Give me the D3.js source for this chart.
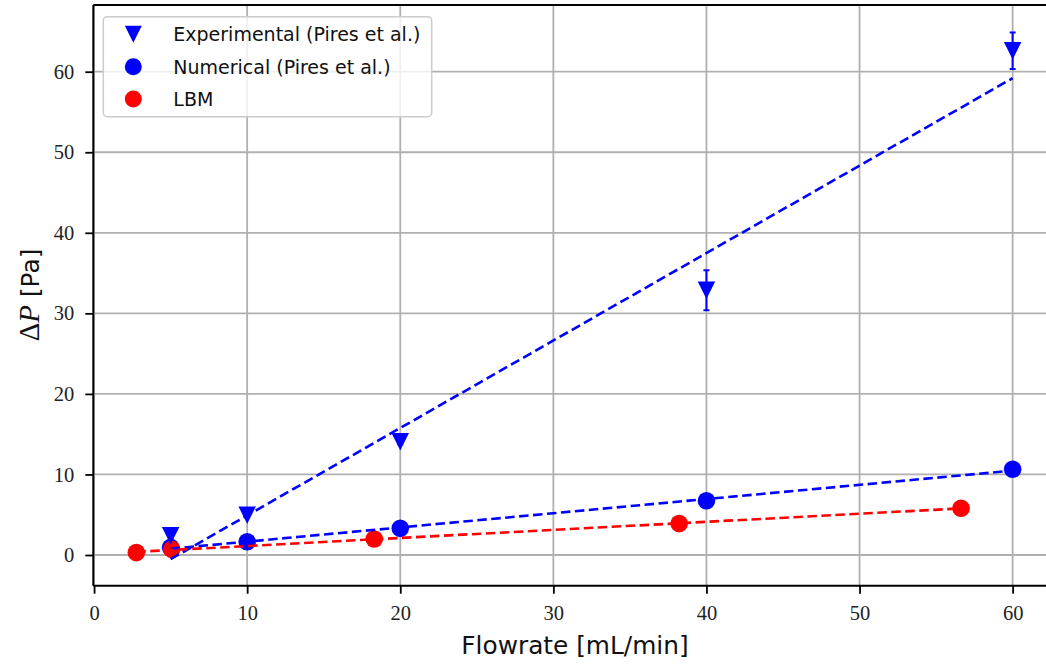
<!DOCTYPE html>
<html>
<head>
<meta charset="utf-8">
<script src="https://cdn.jsdelivr.net/npm/d3@7"></script>
<style>
  html, body { margin: 0; padding: 0; background: #fff; }
  svg { display: block; }
</style>
</head>
<body>
<svg id="chart" width="1046" height="668"></svg>
<script>
// ---------------- data ----------------
const expFlow   = [5, 10, 20, 40, 60];
const expDP     = [2.38, 4.94, 14.05, 32.87, 62.6];
const expErr    = [0.2, 0.25, 0.3, 2.48, 2.27];

const numFlow   = [5, 10, 20, 40, 60];
const numDP     = [0.95, 1.65, 3.31, 6.74, 10.64];

const lbmFlow   = [2.76, 5.07, 18.3, 38.22, 56.63];
const lbmDP     = [0.30, 0.70, 1.99, 3.90, 5.80];

const xTicks = [0, 10, 20, 30, 40, 50, 60];
const yTicks = [0, 10, 20, 30, 40, 50, 60];

const legendLabels = ["Experimental (Pires et al.)", "Numerical (Pires et al.)", "LBM"];
const xLabel = "Flowrate [mL/min]";

// ---------------- layout ----------------
const W = 1046, H = 668;
const plot = { left: 93.3, right: 1048, top: 5, bottom: 585.7 };
const BLUE = "#0000ff", RED = "#ff0000";

const x = d3.scaleLinear().domain([-0.05, 62.31]).range([plot.left, plot.right]);
const y = d3.scaleLinear().domain([-3.81, 68.28]).range([plot.bottom, plot.top]);

const svg = d3.select("#chart");

// least-squares fit
function fit(xs, ys) {
  const n = xs.length;
  const mx = d3.mean(xs), my = d3.mean(ys);
  let sxy = 0, sxx = 0;
  for (let i = 0; i < n; i++) { sxy += (xs[i]-mx)*(ys[i]-my); sxx += (xs[i]-mx)**2; }
  const b = sxy / sxx, a = my - b*mx;
  const x0 = d3.min(xs), x1 = d3.max(xs);
  return [[x0, a + b*x0], [x1, a + b*x1]];
}

// grid
const grid = svg.append("g");
grid.selectAll("line.gx").data(xTicks).join("line")
  .attr("x1", d => x(d)).attr("x2", d => x(d))
  .attr("y1", plot.top).attr("y2", plot.bottom)
  .attr("stroke", "#b0b0b0").attr("stroke-width", 1.8);
grid.selectAll("line.gy").data(yTicks).join("line")
  .attr("x1", plot.left).attr("x2", plot.right)
  .attr("y1", d => y(d)).attr("y2", d => y(d))
  .attr("stroke", "#b0b0b0").attr("stroke-width", 1.8);

// markers
const R = 8.8;
svg.append("g").selectAll("circle").data(numFlow.map((f,i)=>[f,numDP[i]])).join("circle")
  .attr("cx", d => x(d[0])).attr("cy", d => y(d[1])).attr("r", R).attr("fill", BLUE);
svg.append("g").selectAll("circle").data(lbmFlow.map((f,i)=>[f,lbmDP[i]])).join("circle")
  .attr("cx", d => x(d[0])).attr("cy", d => y(d[1])).attr("r", R).attr("fill", RED);

// error bars + triangles
const tri = (cx, cy, s) => {
  const h = s/2;
  return `M${cx},${cy+h} L${cx-h},${cy-h} L${cx+h},${cy-h} Z`;
};
const eg = svg.append("g");
expFlow.forEach((f, i) => {
  const cx = x(f), y0 = y(expDP[i]-expErr[i]), y1 = y(expDP[i]+expErr[i]);
  eg.append("line").attr("x1", cx).attr("x2", cx).attr("y1", y0).attr("y2", y1)
    .attr("stroke", BLUE).attr("stroke-width", 2);
  [y0, y1].forEach(yy => eg.append("line").attr("x1", cx-3).attr("x2", cx+3)
    .attr("y1", yy).attr("y2", yy).attr("stroke", BLUE).attr("stroke-width", 2));
  eg.append("path").attr("d", tri(cx, y(expDP[i]), 17.5)).attr("fill", BLUE);
});

// fit lines
const lineGen = d3.line().x(d => x(d[0])).y(d => y(d[1]));
[[expFlow, expDP, BLUE], [numFlow, numDP, BLUE], [lbmFlow, lbmDP, RED]].forEach(([xs, ys, c]) => {
  svg.append("path").attr("d", lineGen(fit(xs, ys)))
    .attr("fill", "none").attr("stroke", c).attr("stroke-width", 2.6)
    .attr("stroke-dasharray", "9.5,4.5");
});

// axes
const xAxis = svg.append("g").attr("transform", `translate(0,${plot.bottom})`)
  .call(d3.axisBottom(x).tickValues(xTicks).tickSize(8).tickPadding(12).tickFormat(d3.format("d")));
const yAxis = svg.append("g").attr("transform", `translate(${plot.left},0)`)
  .call(d3.axisLeft(y).tickValues(yTicks).tickSize(8).tickPadding(11).tickFormat(d3.format("d")));
[xAxis, yAxis].forEach(a => {
  a.select(".domain").remove();
  a.selectAll(".tick line").attr("stroke", "#000").attr("stroke-width", 1.8);
  a.selectAll(".tick text").attr("fill", "#222").style("font-family", "'Liberation Serif', serif").style("font-size", "20.5px");
});

// spines
svg.append("line").attr("x1", plot.left).attr("x2", plot.left).attr("y1", plot.top).attr("y2", plot.bottom)
  .attr("stroke", "#000").attr("stroke-width", 2);
svg.append("line").attr("x1", plot.left).attr("x2", plot.right).attr("y1", plot.bottom).attr("y2", plot.bottom)
  .attr("stroke", "#000").attr("stroke-width", 2);
svg.append("line").attr("x1", plot.left).attr("x2", plot.right).attr("y1", plot.top).attr("y2", plot.top)
  .attr("stroke", "#000").attr("stroke-width", 2);

// axis labels
svg.append("text").attr("x", 575).attr("y", 654).attr("text-anchor", "middle")
  .style("font-family", "'DejaVu Sans', sans-serif").style("font-size", "24.8px").attr("fill", "#111")
  .text(xLabel);
const yl = svg.append("text").attr("transform", "translate(39,295) rotate(-90)").attr("text-anchor", "middle")
  .style("font-size", "24.8px").attr("fill", "#111");
yl.append("tspan").style("font-family", "'Liberation Serif', serif").style("font-size", "29px").text("Δ");
yl.append("tspan").style("font-family", "'Liberation Serif', serif").style("font-style", "italic").style("font-size", "29px").text("P");
yl.append("tspan").style("font-family", "'DejaVu Sans', sans-serif").text(" [Pa]");

// legend
const lg = svg.append("g");
lg.append("rect").attr("x", 103.3).attr("y", 16.7).attr("width", 328.4).attr("height", 100)
  .attr("rx", 4).attr("fill", "#fff").attr("fill-opacity", 0.8)
  .attr("stroke", "#cccccc").attr("stroke-width", 1.5);
const rows = [34.3, 66.7, 99];
lg.append("path").attr("d", tri(133.3, rows[0], 17)).attr("fill", BLUE);
lg.append("circle").attr("cx", 133.3).attr("cy", rows[1]).attr("r", 8.5).attr("fill", BLUE);
lg.append("circle").attr("cx", 133.3).attr("cy", rows[2]).attr("r", 8.5).attr("fill", RED);
legendLabels.forEach((t, i) => {
  lg.append("text").attr("x", 173.3).attr("y", rows[i]).attr("dy", "0.36em")
    .style("font-family", "'DejaVu Sans', sans-serif").style("font-size", "19px").attr("fill", "#111")
    .text(t);
});
</script>
</body>
</html>
